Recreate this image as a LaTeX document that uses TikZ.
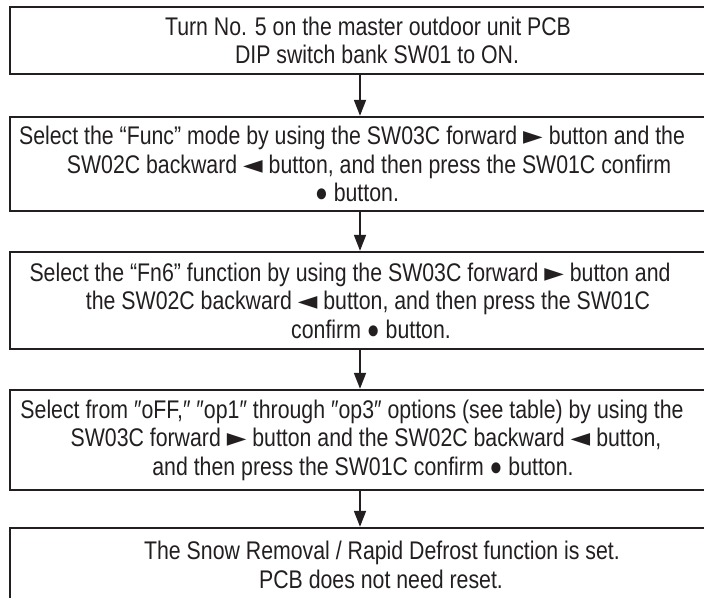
\documentclass[tikz,border=0pt]{standalone}
\usepackage{fontspec}
\setmainfont[FakeStretch=0.835]{Liberation Sans}
\newfontfamily\symbfont{DejaVu Sans}
\newcommand{\fwdbtn}{{\symbfont ►}}
\newcommand{\bwdbtn}{{\symbfont ◄}}
\newcommand{\nudge}[2]{\hspace*{#1}#2\hspace*{-#1}}
\usetikzlibrary{arrows.meta}
\definecolor{ink}{HTML}{231F20}
\begin{document}
\begin{tikzpicture} [x=1pt, y=-1pt, color=ink,
    >={Triangle[length=16pt, width=12pt]},
    line width=1.8pt,
    stepbox/.style={draw, line width=2.4pt, minimum width=708pt, inner sep=0pt,
      align=center, font=\fontsize{25.5}{28.5}\selectfont}]
  \useasboundingbox (0,0) rectangle (704,597);
  \node[stepbox, minimum height=67pt] (s1) at (364,40.5)
    {\nudge{4pt}{Turn No. 5 on the master outdoor unit PCB}\\
     \nudge{13pt}{DIP switch bank SW01 to ON.}};
  \node[stepbox, minimum height=94pt] (s2) at (364,164)
    {\nudge{-12pt}{Select the “Func” mode by using the SW03C forward \fwdbtn{} button and the}\\
     \nudge{10pt}{SW02C backward \bwdbtn{} button, and then press the SW01C confirm}\\
     \nudge{-7pt}{● button.}};
  \node[stepbox, minimum height=97pt] (s3) at (364,300.5)
    {\nudge{-14pt}{Select the “Fn6” function by using the SW03C forward \fwdbtn{} button and}\\
     \nudge{8pt}{the SW02C backward \bwdbtn{} button, and then press the SW01C}\\
     \nudge{7pt}{confirm ● button.}};
  \node[stepbox, minimum height=100pt] (s4) at (364,440)
    {\nudge{-12pt}{Select from ″oFF,″ ″op1″ through ″op3″ options (see table) by using the}\\
     \nudge{4pt}{SW03C forward \fwdbtn{} button and the SW02C backward \bwdbtn{} button,}\\
     \nudge{-1pt}{and then press the SW01C confirm ● button.}};
  \node[stepbox, minimum height=74pt] (s5) at (364,565)
    {\nudge{18pt}{The Snow Removal / Rapid Defrost function is set.}\\
     \nudge{17pt}{PCB does not need reset.}};

  \draw[->] ([xshift=-4pt]s1.south) -- ([xshift=-4pt]s2.north);
  \draw[->] ([xshift=-4pt]s2.south) -- ([xshift=-4pt]s3.north);
  \draw[->] ([xshift=-4pt]s3.south) -- ([xshift=-4pt]s4.north);
  \draw[->] ([xshift=-4pt]s4.south) -- ([xshift=-4pt]s5.north);
\end{tikzpicture}
\end{document}
